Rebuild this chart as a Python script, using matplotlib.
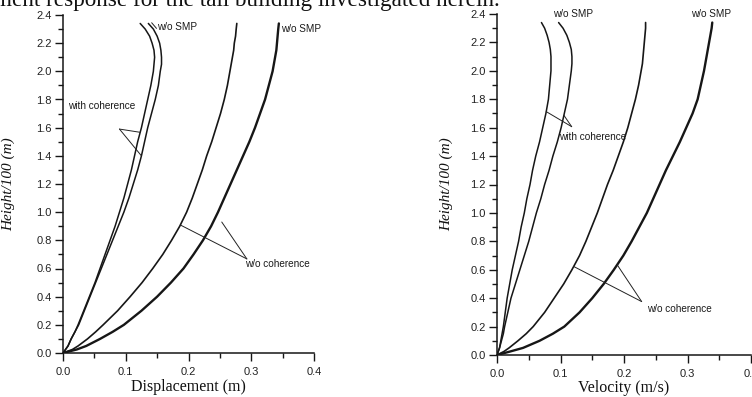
import numpy as np
import matplotlib
matplotlib.use("Agg")
import matplotlib.pyplot as plt
from matplotlib.ticker import MultipleLocator, FormatStrFormatter

# ---------------- data ----------------
height = [0, 0.025, 0.05, 0.1, 0.15, 0.2, 0.3, 0.4, 0.5, 0.6, 0.7, 0.8, 0.9, 1.0, 1.1, 1.2,
          1.3, 1.4, 1.5, 1.6, 1.7, 1.8, 1.9, 2.0, 2.05, 2.1, 2.15, 2.2, 2.25, 2.3, 2.34]

# displacement (m)
disp_coh_smp = [0, 0.004, 0.008, 0.013, 0.019, 0.024, 0.033, 0.042, 0.051, 0.059, 0.067, 0.075, 0.083, 0.090,
                0.097, 0.103, 0.109, 0.114, 0.119, 0.125, 0.130, 0.135, 0.140, 0.144, 0.145, 0.146, 0.145,
                0.142, 0.138, 0.131, 0.123]
disp_coh_nosmp = [0, 0.004, 0.008, 0.013, 0.019, 0.025, 0.034, 0.043, 0.052, 0.061, 0.070, 0.079, 0.088, 0.097,
                  0.105, 0.112, 0.119, 0.125, 0.130, 0.135, 0.141, 0.147, 0.152, 0.155, 0.157, 0.157, 0.156,
                  0.154, 0.150, 0.144, 0.136]
disp_nocoh_smp = [0, 0.015, 0.024, 0.039, 0.052, 0.064, 0.087, 0.107, 0.126, 0.143, 0.159, 0.173, 0.186, 0.197,
                  0.206, 0.214, 0.222, 0.229, 0.237, 0.244, 0.251, 0.257, 0.262, 0.266, 0.268, 0.270, 0.272,
                  0.273, 0.275, 0.276, 0.277]
disp_nocoh_nosmp = [0, 0.022, 0.037, 0.059, 0.079, 0.097, 0.125, 0.150, 0.172, 0.192, 0.208, 0.223, 0.236, 0.247,
                    0.257, 0.267, 0.277, 0.287, 0.297, 0.306, 0.314, 0.322, 0.328, 0.334, 0.336, 0.338, 0.340,
                    0.341, 0.342, 0.343, 0.344]

# velocity (m/s)
vel_coh_smp = [0, 0.002, 0.004, 0.006, 0.008, 0.010, 0.013, 0.016, 0.020, 0.024, 0.029, 0.034, 0.038, 0.043,
               0.047, 0.052, 0.056, 0.061, 0.067, 0.072, 0.077, 0.081, 0.083, 0.085, 0.085, 0.085, 0.084,
               0.082, 0.079, 0.075, 0.070]
vel_coh_nosmp = [0, 0.002, 0.004, 0.007, 0.010, 0.012, 0.017, 0.022, 0.029, 0.036, 0.043, 0.050, 0.056, 0.062,
                 0.069, 0.075, 0.082, 0.088, 0.095, 0.101, 0.106, 0.111, 0.114, 0.117, 0.118, 0.118, 0.117,
                 0.114, 0.110, 0.104, 0.097]
vel_nocoh_smp = [0, 0.011, 0.019, 0.033, 0.046, 0.057, 0.075, 0.090, 0.105, 0.118, 0.130, 0.140, 0.149, 0.158,
                 0.166, 0.174, 0.183, 0.191, 0.199, 0.206, 0.212, 0.218, 0.223, 0.227, 0.229, 0.230, 0.231,
                 0.232, 0.233, 0.234, 0.234]
vel_nocoh_nosmp = [0, 0.021, 0.041, 0.067, 0.088, 0.106, 0.130, 0.150, 0.168, 0.184, 0.199, 0.212, 0.224, 0.236,
                   0.246, 0.256, 0.266, 0.277, 0.288, 0.298, 0.308, 0.316, 0.321, 0.326, 0.328, 0.330, 0.332,
                   0.334, 0.336, 0.338, 0.339]

x_ticks = [0.0, 0.1, 0.2, 0.3, 0.4]
y_ticks = [0.0, 0.2, 0.4, 0.6, 0.8, 1.0, 1.2, 1.4, 1.6, 1.8, 2.0, 2.2, 2.4]

plt.rcParams['font.family'] = ['Liberation Sans', 'DejaVu Sans']

INK = '#161616'
SERIF = ['Liberation Serif', 'DejaVu Serif']

fig = plt.figure(figsize=(7.52, 3.97), dpi=100)
fig.patch.set_facecolor('white')

# clipped caption line at the very top
fig.text(-0.008, 1 - 6 / 397, 'ment response for the tall building investigated herein.',
         family=SERIF, fontsize=16.7, color='#111111', ha='left', va='baseline')

ax1 = fig.add_axes([63 / 752, 44 / 397, 251 / 752, 338 / 397])
ax2 = fig.add_axes([497 / 752, 42 / 397, 254 / 752, 341 / 397])


def style(ax, xlabel):
    for s in ('top', 'right'):
        ax.spines[s].set_visible(False)
    for s in ('left', 'bottom'):
        ax.spines[s].set_linewidth(1.1)
        ax.spines[s].set_color(INK)
    ax.set_xlim(0, 0.4)
    ax.set_ylim(0, 2.4)
    ax.set_xticks(x_ticks)
    ax.set_yticks(y_ticks)
    ax.xaxis.set_minor_locator(MultipleLocator(0.05))
    ax.yaxis.set_minor_locator(MultipleLocator(0.1))
    ax.xaxis.set_major_formatter(FormatStrFormatter('%.1f'))
    ax.yaxis.set_major_formatter(FormatStrFormatter('%.1f'))
    ax.tick_params(which='major', direction='out', length=6, width=1.0,
                   color=INK, labelsize=8, labelcolor='#222222')
    ax.tick_params(which='minor', direction='out', length=3.5, width=1.0, color=INK)
    ax.tick_params(axis='x', which='major', pad=4)
    ax.tick_params(axis='y', which='major', pad=2)
    ax.set_xlabel(xlabel, family=SERIF, fontsize=11.5, color='#111111')
    ax.set_ylabel('Height/100 (m)', family=SERIF, style='italic', fontsize=11, color='#111111')


style(ax1, 'Displacement (m)')
style(ax2, 'Velocity (m/s)')
ax1.xaxis.set_label_coords(0.498, -0.078)
ax2.xaxis.set_label_coords(0.50, -0.072)
ax1.yaxis.set_label_coords(-0.19, 0.5)
ax2.yaxis.set_label_coords(-0.173, 0.5)

for ax, series in ((ax1, (disp_coh_smp, disp_coh_nosmp, disp_nocoh_smp, disp_nocoh_nosmp)),
                   (ax2, (vel_coh_smp, vel_coh_nosmp, vel_nocoh_smp, vel_nocoh_nosmp))):
    lws = (1.1, 1.1, 1.2, 1.7)
    for vals, lw in zip(series, lws):
        ax.plot(vals, height, color=INK, lw=lw, solid_capstyle='round', solid_joinstyle='round')

LBL = dict(fontsize=7.2, color='#1a1a1a')
LEAD = dict(arrowstyle='-', color='#222222', lw=0.7, shrinkA=0, shrinkB=0)


def on(curve, h):
    return (float(np.interp(h, height, curve)), h)


# ---- left panel annotations ----
ax1.text(0.150, 2.317, 'w/o SMP', ha='left', va='center', **LBL)
ax1.annotate('', xy=(0.149, 2.305), xytext=(0.1413, 2.345), arrowprops=LEAD)
ax1.text(0.347, 2.300, 'w/o SMP', ha='left', va='center', **LBL)

ax1.text(0.008, 1.754, 'with coherence', ha='left', va='center', **LBL)
ax1.annotate('', xy=on(disp_coh_smp, 1.567), xytext=(0.090, 1.59), arrowprops=LEAD)
ax1.annotate('', xy=on(disp_coh_nosmp, 1.40), xytext=(0.090, 1.59), arrowprops=LEAD)

ax1.text(0.290, 0.632, 'w/o coherence', ha='left', va='center', **LBL)
ax1.annotate('', xy=on(disp_nocoh_smp, 0.909), xytext=(0.293, 0.668), arrowprops=LEAD)
ax1.annotate('', xy=(0.253, 0.93), xytext=(0.293, 0.668), arrowprops=LEAD)

# ---- right panel annotations ----
ax2.text(0.0877, 2.40, 'w/o SMP', ha='left', va='center', clip_on=False, **LBL)
ax2.text(0.3055, 2.40, 'w/o SMP', ha='left', va='center', clip_on=False, **LBL)

ax2.text(0.098, 1.536, 'with coherence', ha='left', va='center', **LBL)
ax2.annotate('', xy=on(vel_coh_smp, 1.713), xytext=(0.1176, 1.607), arrowprops=LEAD)
ax2.annotate('', xy=on(vel_coh_nosmp, 1.687), xytext=(0.1176, 1.607), arrowprops=LEAD)

ax2.text(0.2357, 0.322, 'w/o coherence', ha='left', va='center', **LBL)
ax2.annotate('', xy=on(vel_nocoh_smp, 0.623), xytext=(0.2278, 0.376), arrowprops=LEAD)
ax2.annotate('', xy=on(vel_nocoh_nosmp, 0.635), xytext=(0.2278, 0.376), arrowprops=LEAD)

fig.savefig('out.png', dpi=100, facecolor='white')
